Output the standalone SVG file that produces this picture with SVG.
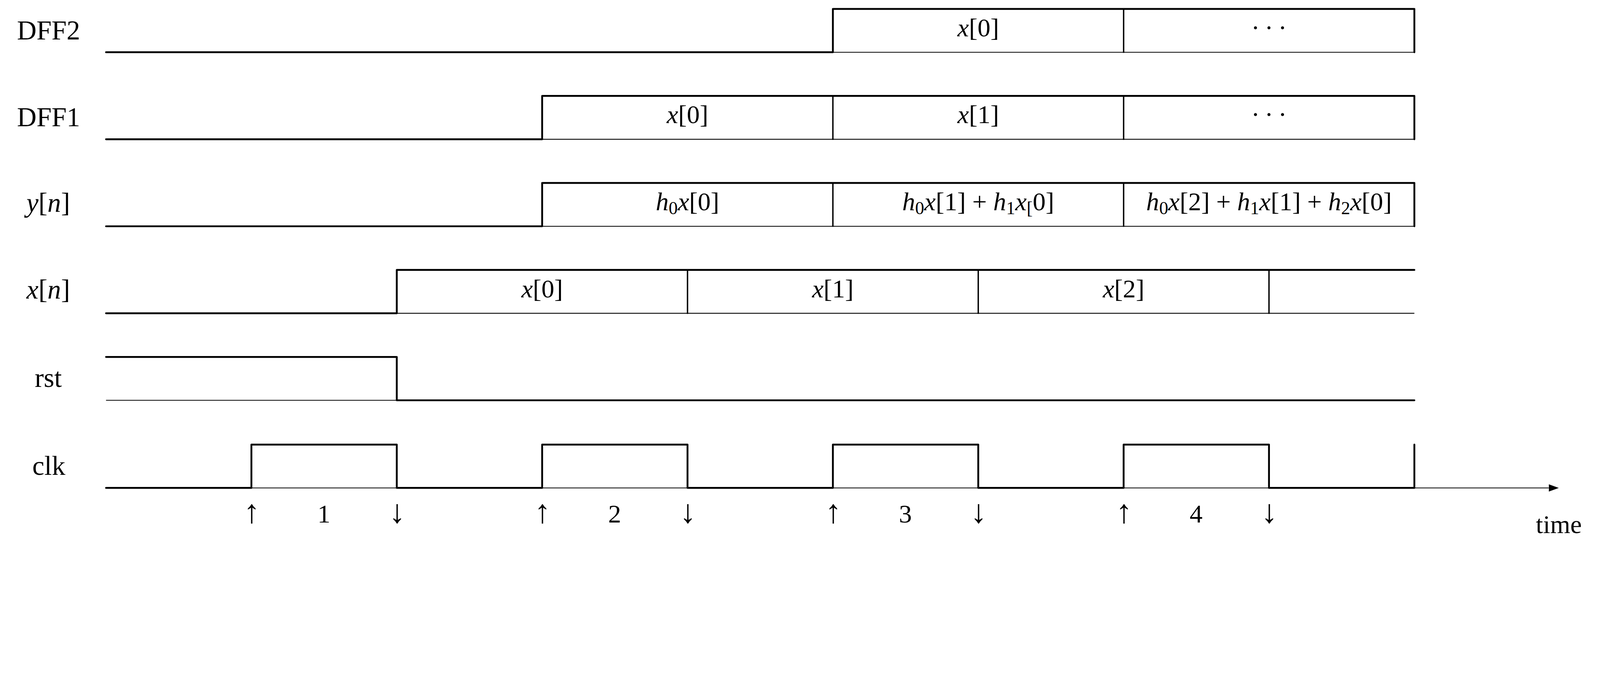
<svg xmlns="http://www.w3.org/2000/svg" width="5206" height="1786" viewBox="0 0 5206 1786">
<style>
svg:root{width:100vw;height:calc(100vw * 0.3430657)}
.sig{fill:none;stroke:#000;stroke-width:6;stroke-linecap:round;stroke-linejoin:round}
.base{fill:none;stroke:#000;stroke-width:2.6}
.sep{fill:none;stroke:#000;stroke-width:4.5}
.t{font-family:"Liberation Serif","Times New Roman",serif;font-size:84px;text-anchor:middle;fill:#000}
.lab{font-size:88px}
.i{font-style:italic}
.s{font-size:59px}
.ar{font-size:107px}
.dots{letter-spacing:16px}
</style>
<defs>
<marker id="ah" markerUnits="userSpaceOnUse" markerWidth="34" markerHeight="26" refX="0" refY="13" orient="auto">
<path d="M0,1 L33,13 L0,25 Z" fill="#000"/>
</marker>
</defs>
<rect width="5206" height="1786" fill="#fff"/>

<g id="connectors">
<path class="base" d="M345 1587 H5039" marker-end="url(#ah)"/>
<text class="t" x="5072" y="1734">time</text>
</g>

<g id="dff2">
<text class="t lab" x="158" y="128">DFF2</text>
<path class="base" d="M345 170 H4602"/>
<path class="sig" d="M345 170 H2710 V29 H4602 V170"/>
<path class="sep" d="M3656 29 V172"/>
<text class="t" x="3183" y="118"><tspan class="i">x</tspan>[0]</text>
<text class="t dots" x="4137" y="118">···</text>
</g>

<g id="dff1">
<text class="t lab" x="158" y="411">DFF1</text>
<path class="base" d="M345 453 H4602"/>
<path class="sig" d="M345 453 H1764 V312 H4602 V453"/>
<path class="sep" d="M2710 312 V455 M3656 312 V455"/>
<text class="t" x="2237" y="401"><tspan class="i">x</tspan>[0]</text>
<text class="t" x="3183" y="401"><tspan class="i">x</tspan>[1]</text>
<text class="t dots" x="4137" y="401">···</text>
</g>

<g id="yn">
<text class="t lab" x="157" y="689"><tspan class="i">y</tspan>[<tspan class="i">n</tspan>]</text>
<path class="base" d="M345 736 H4602"/>
<path class="sig" d="M345 736 H1764 V595 H4602 V736"/>
<path class="sep" d="M2710 595 V738 M3656 595 V738"/>
<text class="t" x="2237" y="684"><tspan class="i">h</tspan><tspan class="s" dy="13">0</tspan><tspan class="i" dy="-13">x</tspan>[0]</text>
<text class="t" x="3183" y="684"><tspan class="i">h</tspan><tspan class="s" dy="13">0</tspan><tspan class="i" dy="-13">x</tspan>[1] + <tspan class="i">h</tspan><tspan class="s" dy="13">1</tspan><tspan class="i" dy="-13">x</tspan><tspan class="s" dy="13">[</tspan><tspan dy="-13">0]</tspan></text>
<text class="t" x="4129" y="684"><tspan class="i">h</tspan><tspan class="s" dy="13">0</tspan><tspan class="i" dy="-13">x</tspan>[2] + <tspan class="i">h</tspan><tspan class="s" dy="13">1</tspan><tspan class="i" dy="-13">x</tspan>[1] + <tspan class="i">h</tspan><tspan class="s" dy="13">2</tspan><tspan class="i" dy="-13">x</tspan>[0]</text>
</g>

<g id="xn">
<text class="t lab" x="157" y="971"><tspan class="i">x</tspan>[<tspan class="i">n</tspan>]</text>
<path class="base" d="M345 1019 H4602"/>
<path class="sig" d="M345 1019 H1291 V878 H4602"/>
<path class="sep" d="M2237 878 V1021 M3183 878 V1021 M4129 878 V1021"/>
<text class="t" x="1764" y="967"><tspan class="i">x</tspan>[0]</text>
<text class="t" x="2710" y="967"><tspan class="i">x</tspan>[1]</text>
<text class="t" x="3656" y="967"><tspan class="i">x</tspan>[2]</text>
</g>

<g id="rst">
<text class="t lab" x="157" y="1258">rst</text>
<path class="base" d="M345 1302 H4602"/>
<path class="sig" d="M345 1161 H1291 V1302 H4602"/>
</g>

<g id="clk">
<text class="t lab" x="159" y="1545">clk</text>
<path class="sig" d="M345 1587 H818 V1446 H1291 V1587 H1764 V1446 H2237 V1587 H2710 V1446 H3183 V1587 H3656 V1446 H4129 V1587 H4602 V1446"/>
</g>

<g id="cycles">
<text class="t ar" x="819" y="1700">↑</text>
<text class="t" x="1054" y="1700">1</text>
<text class="t ar" x="1292" y="1700">↓</text>
<text class="t ar" x="1765" y="1700">↑</text>
<text class="t" x="2000" y="1700">2</text>
<text class="t ar" x="2238" y="1700">↓</text>
<text class="t ar" x="2711" y="1700">↑</text>
<text class="t" x="2946" y="1700">3</text>
<text class="t ar" x="3184" y="1700">↓</text>
<text class="t ar" x="3657" y="1700">↑</text>
<text class="t" x="3892" y="1700">4</text>
<text class="t ar" x="4130" y="1700">↓</text>
</g>
</svg>
